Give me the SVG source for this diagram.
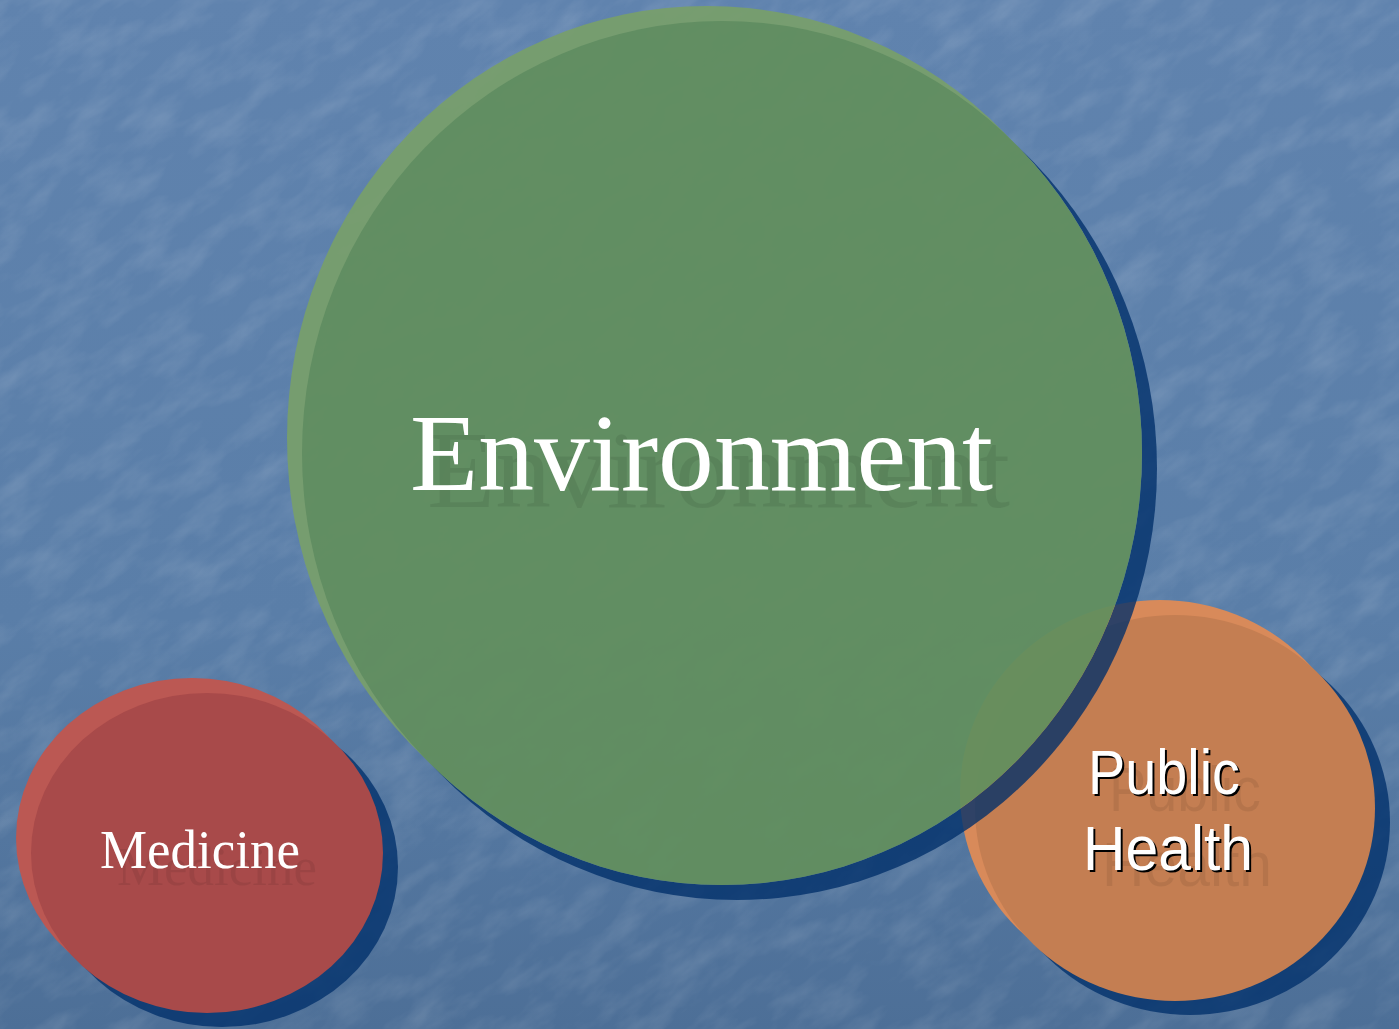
<svg xmlns="http://www.w3.org/2000/svg" width="1399" height="1029" viewBox="0 0 1399 1029">
  <defs>
    <linearGradient id="bg" x1="0" y1="0" x2="0" y2="1">
      <stop offset="0" stop-color="#6083ae"/>
      <stop offset="0.6" stop-color="#5a7ea8"/>
      <stop offset="1" stop-color="#4d6f97"/>
    </linearGradient>
    <filter id="tex" x="0" y="0" width="100%" height="100%">
      <feTurbulence type="fractalNoise" baseFrequency="0.018 0.045" numOctaves="4" seed="7" result="n"/>
      <feColorMatrix in="n" type="matrix" values="0 0 0 0 1  0 0 0 0 1  0 0 0 0 1  0 0 0 -2 1.2"/>
    </filter>
    <mask id="envShadowMask" maskUnits="userSpaceOnUse" x="0" y="0" width="1399" height="1029">
      <rect width="1399" height="1029" fill="#ffffff"/>
      <ellipse cx="722" cy="453" rx="420" ry="432" fill="#000000"/>
      <ellipse cx="707" cy="438" rx="420" ry="432" fill="#000000"/>
    </mask>
    <style>
      .shadow { fill: #002f6a; opacity: 0.78; }
      .serif { font-family: "Liberation Serif", "DejaVu Serif", serif; fill: #ffffff; }
      .sans { font-family: "Liberation Sans", Arial, sans-serif; fill: #ffffff; }
      .ghost { fill: #000000; opacity: 0.07; }
      .drop { fill: #000000; }
    </style>
  </defs>

  <rect width="1399" height="1029" fill="url(#bg)"/>
  <g transform="rotate(-35 700 515)" opacity="0.11">
    <rect x="-400" y="-400" width="2200" height="1830" filter="url(#tex)"/>
  </g>

  <g id="public-health">
    <ellipse class="shadow" cx="1190" cy="822" rx="200" ry="193"/>
    <ellipse cx="1160" cy="793" rx="200" ry="193" fill="#d88a5a"/>
    <ellipse cx="1175" cy="808" rx="200" ry="193" fill="#c47e52"/>
    <text class="ghost sans" x="1185" y="811" font-size="63" text-anchor="middle" textLength="152" lengthAdjust="spacingAndGlyphs">Public</text>
    <text class="ghost sans" x="1187" y="886" font-size="63" text-anchor="middle" textLength="170" lengthAdjust="spacingAndGlyphs">Health</text>
    <text class="drop sans" x="1166" y="796" font-size="63" text-anchor="middle" textLength="152" lengthAdjust="spacingAndGlyphs">Public</text>
    <text class="drop sans" x="1170" y="872" font-size="63" text-anchor="middle" textLength="170" lengthAdjust="spacingAndGlyphs">Health</text>
    <text class="sans" x="1164" y="794" font-size="63" text-anchor="middle" textLength="152" lengthAdjust="spacingAndGlyphs">Public</text>
    <text class="sans" x="1168" y="870" font-size="63" text-anchor="middle" textLength="170" lengthAdjust="spacingAndGlyphs">Health</text>
  </g>

  <g id="medicine">
    <ellipse class="shadow" cx="222" cy="867" rx="176" ry="160"/>
    <ellipse cx="192" cy="838" rx="176" ry="160" fill="#bb5853"/>
    <ellipse cx="207" cy="853" rx="176" ry="160" fill="#a84a4a"/>
    <text class="ghost serif" x="117" y="885" font-size="54" textLength="200" lengthAdjust="spacingAndGlyphs">Medicine</text>
    <text class="serif" x="100" y="868" font-size="54" textLength="200" lengthAdjust="spacingAndGlyphs">Medicine</text>
  </g>

  <g id="environment">
    <ellipse class="shadow" cx="737" cy="468" rx="420" ry="432" mask="url(#envShadowMask)"/>
    <g opacity="0.94">
      <ellipse cx="707" cy="438" rx="420" ry="432" fill="#789f6c"/>
      <ellipse cx="722" cy="453" rx="420" ry="432" fill="#628f5e"/>
    </g>
    <text class="ghost serif" x="427" y="507" font-size="110" textLength="583" lengthAdjust="spacingAndGlyphs">Environment</text>
    <text class="serif" x="410" y="490" font-size="110" textLength="583" lengthAdjust="spacingAndGlyphs">Environment</text>
  </g>

  <g id="connectors"/>
</svg>
